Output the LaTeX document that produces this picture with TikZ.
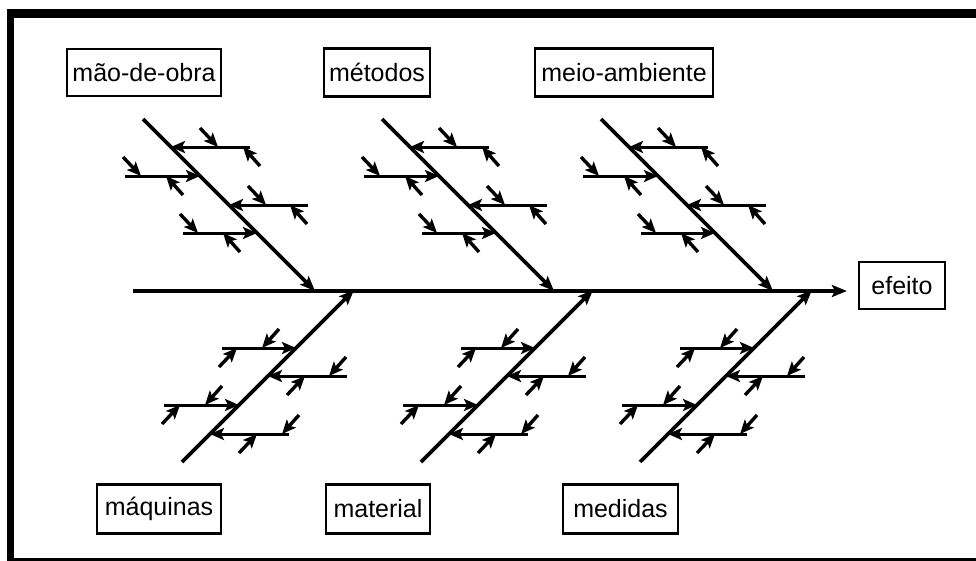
\documentclass[tikz,border=0pt]{standalone}
\usepackage{fontspec}
\setmainfont{Liberation Sans}
\usetikzlibrary{arrows.meta}

\tikzset{
  bigtip/.tip={Stealth[length=15pt,width=12pt,inset=3pt]},
  smalltip/.tip={Stealth[length=14pt,width=12pt,inset=3pt]},
  spine/.style={line width=3.8pt,-bigtip},
  bonestyle/.style={line width=3.6pt,-bigtip},
  ribstyle/.style={line width=3pt,-smalltip},
  causestyle/.style={line width=3.4pt,-smalltip},
  category/.style={draw,line width=2.2pt,inner sep=0pt,
    font=\fontsize{25}{30}\selectfont},
  % one main cause: diagonal bone, four ribs, two small causes per rib
  bone/.pic={
    \coordinate (-s) at (0,0);
    \coordinate (-e) at (172,172);
    \draw[bonestyle] (-s) -- (-e);
    % free end / joint x / level y / upper cause x / lower cause x
    \foreach \f/\j/\y/\u/\l [count=\i] in
      {107/28/28/75/100, -18/57/57/-2/23, 165/86/86/123/147, 40/114/114/55/80}{
      \coordinate (-f\i) at (\f,\y);
      \coordinate (-j\i) at (\j,\y);
      \draw[ribstyle] (-f\i) -- (-j\i);
      \draw[causestyle] (\u-18,\y-19) -- (\u,\y);
      \draw[causestyle] (\l+17,\y+19) -- (\l,\y);
    }
  }
}

\begin{document}
\begin{tikzpicture}[x=1pt,y=-1pt]
  \useasboundingbox (0,0) rectangle (976,560);
  \clip (0,0) rectangle (976,560);

  % outer frame
  \draw[line width=9pt] (7,13.5) -- (980,13.5);
  \draw[line width=7pt] (10.5,9) -- (10.5,565);
  \draw[line width=4pt] (7,560) -- (980,560);

  % category labels
  \node[category,minimum width=154pt,minimum height=47pt] (mo)  at (144,72.5) {mão-de-obra};
  \node[category,minimum width=106pt,minimum height=48pt] (met) at (377,72.5) {métodos};
  \node[category,minimum width=178pt,minimum height=48pt] (amb) at (624,72.5) {meio-ambiente};
  \node[category,minimum width=124pt,minimum height=49pt] (maq) at (159,509) {máquinas};
  \node[category,minimum width=104pt,minimum height=49pt] (mat) at (378,509) {material};
  \node[category,minimum width=115pt,minimum height=49pt] (med) at (620.5,509) {medidas};
  \node[category,minimum width=86pt,minimum height=47pt] (efeito) at (902,285.5) {efeito};

  % spine
  \coordinate (tail) at (133,291);
  \draw[spine,shorten >=11pt] (tail) -- (tail -| efeito.west);

  % upper bones
  \pic (bmo)  at (143,119) {bone};
  \pic (bmet) at (382,119) {bone};
  \pic (bamb) at (601,119) {bone};

  % lower bones (mirrored)
  \pic[yscale=-1] (bmaq) at (182,462) {bone};
  \pic[yscale=-1] (bmat) at (421,462) {bone};
  \pic[yscale=-1] (bmed) at (640,462) {bone};
\end{tikzpicture}
\end{document}
